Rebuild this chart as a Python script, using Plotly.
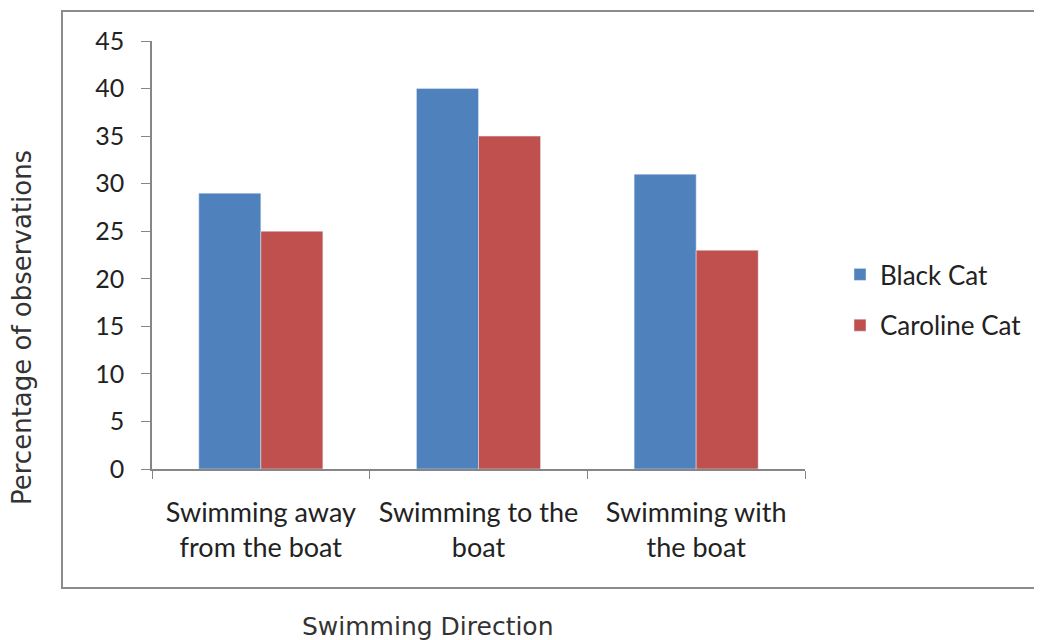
import plotly.graph_objects as go

categories = ["Swimming away<br>from the boat", "Swimming to the<br>boat", "Swimming with<br>the boat"]
black_cat = [29, 40, 31]
caroline_cat = [25, 35, 23]
y_ticks = [0, 5, 10, 15, 20, 25, 30, 35, 40, 45]

FONT = "Lato"
OFF = 8  # page body margin

fig = go.Figure()
fig.add_trace(go.Bar(x=categories, y=black_cat, name="Black Cat", marker_color="#4F81BD",
                     legendgroup="a"))
fig.add_trace(go.Bar(x=categories, y=caroline_cat, name="Caroline Cat", marker_color="#C0504D",
                     legendgroup="b"))

W, H = 1042 - OFF, 640 - OFF
L, T = 152 - OFF, 41 - OFF
pw, ph = 653, 428
R = W - L - pw
B = H - T - ph

def px_x(p):
    return (p - 152) / pw

def px_y(p):
    return (469 - p) / ph

fig.update_layout(
    width=W, height=H,
    margin=dict(l=L, r=R, t=T, b=B),
    paper_bgcolor="white", plot_bgcolor="white",
    barmode="group", bargap=0.43, bargroupgap=0,
    font=dict(family=FONT, size=25, color="#222222"),
    showlegend=True,
    legend=dict(x=px_x(840), y=px_y(300), xanchor="left", yanchor="middle",
                font=dict(family=FONT, size=26, color="#222222"),
                tracegroupgap=14, bgcolor="rgba(0,0,0,0)"),
    xaxis=dict(showline=True, linecolor="#868686", linewidth=1.5,
               ticks="outside", ticklen=8, tickcolor="#868686",
               tickson="boundaries", showgrid=False, zeroline=False,
               ticklabelstandoff=19,
               tickfont=dict(family=FONT, size=27, color="#222222")),
    yaxis=dict(range=[0, 45], tickvals=y_ticks, showline=True, linecolor="#868686",
               linewidth=1.5, ticks="outside", ticklen=9, tickcolor="#868686",
               showgrid=False, zeroline=False, ticklabelstandoff=12,
               tickfont=dict(family=FONT, size=25, color="#222222")),
    shapes=[dict(type="rect", xref="paper", yref="paper",
                 x0=px_x(62), x1=px_x(1060), y0=px_y(588), y1=px_y(11),
                 line=dict(color="#8c8c8c", width=2), layer="below")],
    annotations=[
        dict(text="Swimming Direction", xref="paper", yref="paper",
             x=px_x(428), y=px_y(626), showarrow=False, xanchor="center", yanchor="middle",
             font=dict(family="DejaVu Sans", size=25, color="#333333")),
        dict(text="Percentage of observations", xref="paper", yref="paper",
             x=px_x(22), y=px_y(328), showarrow=False, textangle=-90,
             xanchor="center", yanchor="middle",
             font=dict(family="DejaVu Sans", size=26, color="#333333")),
    ],
)

fig.write_html("out.html")
